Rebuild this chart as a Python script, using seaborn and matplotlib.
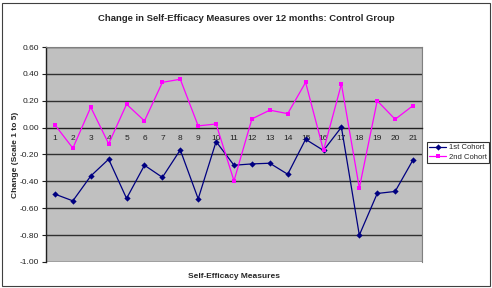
import matplotlib
matplotlib.use("Agg")
import matplotlib.pyplot as plt
from matplotlib.patches import Rectangle
import seaborn as sns
import pandas as pd
import numpy as np

measures = list(range(1, 22))
cohort1 = [-0.495, -0.545, -0.36, -0.235, -0.527, -0.28, -0.37, -0.166, -0.53, -0.104,
           -0.28, -0.27, -0.265, -0.347, -0.087, -0.17, 0.003, -0.80, -0.49, -0.475, -0.24]
cohort2 = [0.02, -0.153, 0.152, -0.12, 0.174, 0.05, 0.337, 0.36, 0.013, 0.027,
           -0.396, 0.065, 0.13, 0.104, 0.337, -0.17, 0.325, -0.45, 0.2, 0.062, 0.164]
series_names = ["1st Cohort", "2nd Cohort"]
yticks = [0.60, 0.40, 0.20, 0.00, -0.20, -0.40, -0.60, -0.80, -1.00]

df = pd.DataFrame({
    "Measure": measures * 2,
    "Change": cohort1 + cohort2,
    "Series": [series_names[0]] * 21 + [series_names[1]] * 21,
})

sns.set_style("white")
plt.rcParams["font.family"] = ["Liberation Sans", "DejaVu Sans"]

fig = plt.figure(figsize=(4.92, 2.88), dpi=100)
ax = fig.add_axes([0.0935, 0.0903, 0.7642, 0.7465])
ax.set_facecolor("#C0C0C0")

for y in yticks:
    if y != 0:
        ax.axhline(y, color="#303030", lw=1.0, zorder=1)

sns.lineplot(data=df, x="Measure", y="Change", hue="Series", style="Series",
             palette={"1st Cohort": "#000080", "2nd Cohort": "#FF00FF"},
             markers={"1st Cohort": "D", "2nd Cohort": "s"},
             dashes=False, markersize=3.2, markeredgewidth=0, lw=0.9,
             ax=ax, zorder=3)

ax.set_xlim(0.5, 21.5)
ax.set_ylim(-1.0, 0.6)
ax.set_yticks(yticks)
ax.set_yticklabels([f"{v:.2f}" for v in yticks])
ax.set_xticks(measures)
ax.set_xticklabels([str(m) for m in measures])
ax.set_xticks(np.arange(0.5, 22, 1.0), minor=True)
ax.xaxis.set_minor_formatter(matplotlib.ticker.NullFormatter())

for s in ["top", "right"]:
    ax.spines[s].set_color("#808080")
    ax.spines[s].set_linewidth(0.8)
ax.spines["left"].set_color("#202020")
ax.spines["left"].set_linewidth(1.0)
ax.spines["bottom"].set_position(("data", 0))
ax.spines["bottom"].set_color("#202020")
ax.spines["bottom"].set_linewidth(1.0)
ax.add_patch(Rectangle((0, 0), 1, 1, transform=ax.transAxes, fill=False,
                       edgecolor="#808080", lw=0.8, zorder=0))

ax.tick_params(axis="x", which="major", length=0, pad=5, labelsize=6, labelcolor="#222222")
ax.tick_params(axis="x", which="minor", length=2.5, direction="in", color="#202020", width=0.8)
ax.tick_params(axis="y", which="major", length=3, direction="out", color="#202020", width=0.8,
               pad=2, left=True, labelsize=6, labelcolor="#222222")

ax.set_xlabel("Self-Efficacy Measures", fontsize=6, fontweight="bold", labelpad=0)
ax.xaxis.set_label_coords(0.5, -0.05)
ax.set_ylabel("Change (Scale 1 to 5)", fontsize=6, fontweight="bold")
ax.yaxis.set_label_coords(-0.072, 0.5)
ax.set_title("Change in Self-Efficacy Measures over 12 months: Control Group",
             fontsize=6.8, fontweight="bold", pad=19, x=0.532)

leg = ax.legend(loc="center left", bbox_to_anchor=(1.013, 0.51), fontsize=5.5,
                frameon=True, fancybox=False, edgecolor="#000000",
                handlelength=2.2, borderpad=0.3, labelspacing=0.3, handletextpad=0.4,
                borderaxespad=0)
leg.get_frame().set_linewidth(0.8)

fig.add_artist(Rectangle((0.004, 0.008), 0.992, 0.98, transform=fig.transFigure,
                         fill=False, edgecolor="#404040", lw=0.8))

fig.savefig("out.png", dpi=100, facecolor="white")
